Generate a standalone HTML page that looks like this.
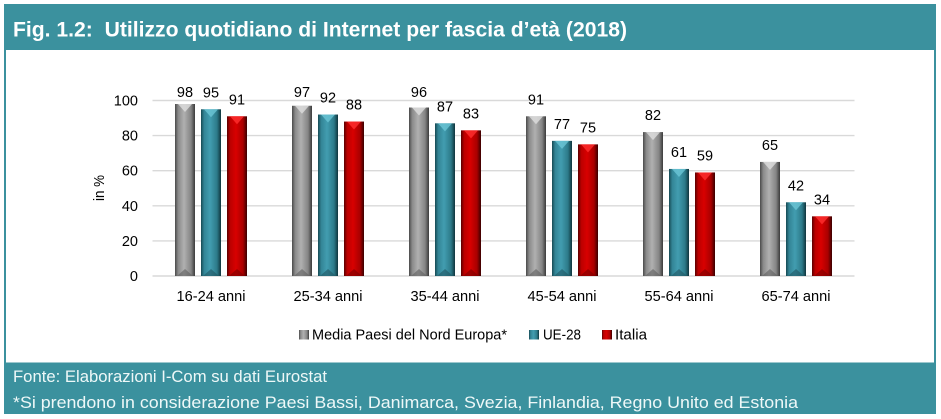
<!DOCTYPE html>
<html lang="it">
<head>
<meta charset="utf-8">
<title>Fig. 1.2: Utilizzo quotidiano di Internet per fascia d'età (2018)</title>
<style>
html,body{margin:0;padding:0;background:#fff;}
body{width:941px;height:419px;overflow:hidden;}
svg{display:block;font-family:"Liberation Sans",sans-serif;}
</style>
</head>
<body>
<svg id="figure" xmlns="http://www.w3.org/2000/svg" width="941" height="419" viewBox="0 0 941 419">
  <defs>
    <linearGradient id="grad-nord" x1="0" x2="1" y1="0" y2="0">
      <stop offset="0" stop-color="#4a4a4a"/><stop offset=".16" stop-color="#8a8a8a"/><stop offset=".45" stop-color="#b0b0b0"/><stop offset=".8" stop-color="#858585"/><stop offset="1" stop-color="#3a3a3a"/>
    </linearGradient>
    <linearGradient id="grad-ue" x1="0" x2="1" y1="0" y2="0">
      <stop offset="0" stop-color="#174a54"/><stop offset=".16" stop-color="#338596"/><stop offset=".45" stop-color="#429db0"/><stop offset=".8" stop-color="#2c7a89"/><stop offset="1" stop-color="#0f343c"/>
    </linearGradient>
    <linearGradient id="grad-it" x1="0" x2="1" y1="0" y2="0">
      <stop offset="0" stop-color="#5a0000"/><stop offset=".16" stop-color="#bb0000"/><stop offset=".45" stop-color="#d80000"/><stop offset=".8" stop-color="#a80000"/><stop offset="1" stop-color="#3a0000"/>
    </linearGradient>
  </defs>

  <rect x="4" y="4" width="2" height="410" fill="#3b919e"/>
  <rect x="934" y="4" width="2" height="410" fill="#3b919e"/>
  <rect x="4" y="4" width="932" height="46" fill="#3b919e"/>
  <text x="13" y="36.5" font-size="21" font-weight="700" fill="#ffffff" textLength="614" lengthAdjust="spacingAndGlyphs" xml:space="preserve">Fig. 1.2:  Utilizzo quotidiano di Internet per fascia d’età (2018)</text>

  <g id="plot"></g>

  <text transform="translate(104,188) rotate(-90)" text-anchor="middle" font-size="14.5" fill="#000" textLength="26" lengthAdjust="spacingAndGlyphs">in %</text>

  <g font-size="14.5" fill="#000">
    <g>
      <rect x="299" y="330" width="10" height="9.5" fill="url(#grad-nord)"/>
      <text x="312" y="339.5" textLength="195" lengthAdjust="spacingAndGlyphs">Media Paesi del Nord Europa*</text>
    </g>
    <g>
      <rect x="529" y="330" width="10" height="9.5" fill="url(#grad-ue)"/>
      <text x="543" y="339.5" textLength="38" lengthAdjust="spacingAndGlyphs">UE-28</text>
    </g>
    <g>
      <rect x="602" y="330" width="10" height="9.5" fill="url(#grad-it)"/>
      <text x="615" y="339.5" textLength="32" lengthAdjust="spacingAndGlyphs">Italia</text>
    </g>
  </g>

  <rect x="4" y="362.5" width="932" height="51.5" fill="#3b919e"/>
  <text x="13" y="382" font-size="17" fill="#eef8f8" textLength="314" lengthAdjust="spacingAndGlyphs">Fonte: Elaborazioni I-Com su dati Eurostat</text>
  <text x="13" y="408" font-size="17" fill="#eef8f8" textLength="785" lengthAdjust="spacingAndGlyphs">*Si prendono in considerazione Paesi Bassi, Danimarca, Svezia, Finlandia, Regno Unito ed Estonia</text>
</svg>

<script>
const categories = ["16-24 anni", "25-34 anni", "35-44 anni", "45-54 anni", "55-64 anni", "65-74 anni"];
const seriesNord = [98, 97, 96, 91, 82, 65];
const seriesUe = [95, 92, 87, 77, 61, 42];
const seriesItalia = [91, 88, 83, 75, 59, 34];
const yTicks = [0, 20, 40, 60, 80, 100];

const seriesList = [
  { key: "nord", values: seriesNord, fill: "url(#grad-nord)", tip: "#dedede", base: "#5f5f5f" },
  { key: "ue", values: seriesUe, fill: "url(#grad-ue)", tip: "#6cc5d6", base: "#1f5560" },
  { key: "italia", values: seriesItalia, fill: "url(#grad-it)", tip: "#ff3030", base: "#7a0000" }
];

const NS = "http://www.w3.org/2000/svg";
const plot = document.getElementById("plot");
const plotLeft = 152.5, plotRight = 854.5, plotTop = 100.5, plotBottom = 276;
const barWidth = 20, barStep = 26;

function yScale(v) { return plotBottom - (v / 100) * (plotBottom - plotTop); }
function groupCenter(i) { return plotLeft + (i + 0.5) * (plotRight - plotLeft) / categories.length; }
function barX(i, s) { return groupCenter(i) - barWidth / 2 + (s - 1) * barStep; }
function make(tag, attrs, text) {
  const el = document.createElementNS(NS, tag);
  for (const k in attrs) el.setAttribute(k, attrs[k]);
  if (text !== undefined) el.textContent = text;
  plot.appendChild(el);
  return el;
}

yTicks.forEach(function (t) {
  const line = make("line", { x1: plotLeft, x2: plotRight, y1: yScale(t), y2: yScale(t), stroke: "#d9d9d9", "stroke-width": 1.4 });
  
  
  const label = make("text", { x: 138, y: yScale(t) + 5, "text-anchor": "end", "font-size": 14.5, fill: "#000" }, String(t));
  
  
});

categories.forEach(function (c, i) {
  const label = make("text", { x: groupCenter(i), y: 301, "text-anchor": "middle", "font-size": 14.5, fill: "#000", textLength: 69, lengthAdjust: "spacingAndGlyphs" }, c);
  
  
});

seriesList.forEach(function (s, si) {
  s.values.forEach(function (v, i) {
    const x = barX(i, si), top = yScale(v), h = plotBottom - top;
    const bar = make("rect", { x: x, y: top, width: barWidth, height: h, fill: s.fill });
    
    

    const bevelTop = make("polygon", {
      points: (x + 3) + "," + top + " " + (x + barWidth - 3) + "," + top + " " + (x + barWidth / 2) + "," + (top + 8),
      fill: s.tip, opacity: 0.8
    });
    
    

    const bevelBottom = make("polygon", {
      points: (x + 2) + "," + plotBottom + " " + (x + barWidth - 2) + "," + plotBottom + " " + (x + barWidth / 2) + "," + (plotBottom - 7),
      fill: s.base, opacity: 0.6
    });
    
    

    const value = make("text", {
      x: x + barWidth / 2,
      y: Math.max(97, top - 12),
      "text-anchor": "middle", "font-size": 14.5, fill: "#000"
    }, String(v));
    
    
  });
});
</script>
</body>
</html>
